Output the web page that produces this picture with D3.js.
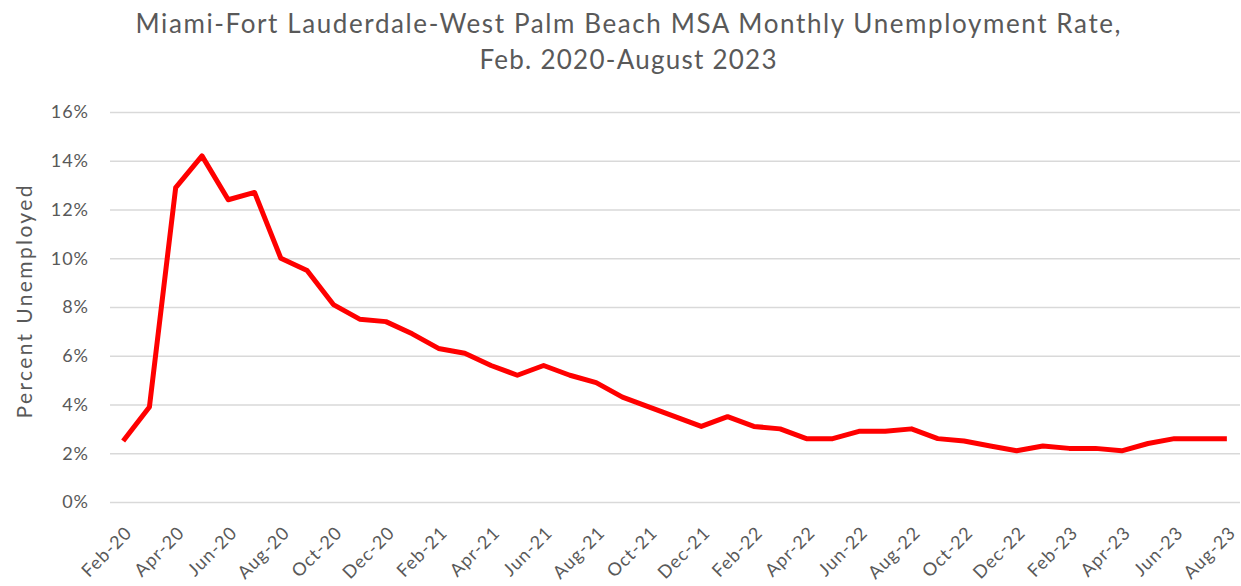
<!DOCTYPE html>
<html>
<head>
<meta charset="utf-8">
<script src="https://cdn.jsdelivr.net/npm/d3@7"></script>
<style>
	body { margin: 0; background: #fff; }
	text { font-family: Lato, "Open Sans", sans-serif; fill: #595959; }
</style>
</head>
<body>
<svg id="chart" width="1241" height="586"></svg>
<script>

var months = ['Feb-20','Mar-20','Apr-20','May-20','Jun-20','Jul-20','Aug-20','Sep-20','Oct-20','Nov-20','Dec-20',
	'Jan-21','Feb-21','Mar-21','Apr-21','May-21','Jun-21','Jul-21','Aug-21','Sep-21','Oct-21','Nov-21','Dec-21',
	'Jan-22','Feb-22','Mar-22','Apr-22','May-22','Jun-22','Jul-22','Aug-22','Sep-22','Oct-22','Nov-22','Dec-22',
	'Jan-23','Feb-23','Mar-23','Apr-23','May-23','Jun-23','Jul-23','Aug-23'];

var rates = [2.5, 3.9, 12.9, 14.2, 12.4, 12.7, 10.0, 9.5, 8.1, 7.5, 7.4,
	6.9, 6.3, 6.1, 5.6, 5.2, 5.6, 5.2, 4.9, 4.3, 3.9, 3.5, 3.1,
	3.5, 3.1, 3.0, 2.6, 2.6, 2.9, 2.9, 3.0, 2.6, 2.5, 2.3, 2.1,
	2.3, 2.2, 2.2, 2.1, 2.4, 2.6, 2.6, 2.6];

var yTicks = [0, 2, 4, 6, 8, 10, 12, 14, 16];

var titleLines = ['Miami-Fort Lauderdale-West Palm Beach MSA Monthly Unemployment Rate,', 'Feb. 2020-August 2023'];

var svg = d3.select('#chart');

var plotLeft = 110, plotRight = 1240;
var plotTop = 112, plotBottom = 502;

var x = d3.scaleBand()
	.domain(months)
	.range([plotLeft, plotRight]);

var y = d3.scaleLinear()
	.domain([0, 16])
	.range([plotBottom, plotTop]);

// title, stretched to the reference width
var titleWidths = [985, 297];
svg.append('g')
	.attr('class', 'title')
	.selectAll('text')
	.data(titleLines)
	.enter()
	.append('text')
	.attr('x', 628)
	.attr('y', function(d, i) { return 33 + i * 36; })
	.attr('text-anchor', 'middle')
	.attr('textLength', function(d, i) { return titleWidths[i]; })
	.attr('lengthAdjust', 'spacing')
	.style('font-size', '26px')
	.text(function(d) { return d; });

// gridlines + y labels
var yAxis = d3.axisLeft(y)
	.tickValues(yTicks)
	.tickSize(-(plotRight - plotLeft))
	.tickPadding(21)
	.tickFormat(function(d) { return d + '%'; });

svg.append('g')
	.attr('class', 'yAxis')
	.attr('transform', 'translate(' + plotLeft + ',0)')
	.call(yAxis)
	.call(function(g) {
		g.select('.domain').remove();
		g.selectAll('line').attr('stroke', '#d9d9d9').attr('stroke-width', 1.5);
		g.selectAll('text')
			.style('font-size', '18px')
			.style('letter-spacing', '1px')
			.attr('fill', '#595959');
	});

// x labels, every second month
var xAxis = d3.axisBottom(x)
	.tickValues(months.filter(function(d, i) { return i % 2 === 0; }))
	.tickSize(0)
	.tickPadding(0);

svg.append('g')
	.attr('class', 'xAxis')
	.attr('transform', 'translate(0,' + plotBottom + ')')
	.call(xAxis)
	.call(function(g) {
		g.select('.domain').remove();
		g.selectAll('text')
			.style('font-size', '18px')
			.style('letter-spacing', '1px')
			.attr('fill', '#595959')
			.attr('text-anchor', 'end')
			.attr('dy', '0')
			.attr('transform', 'translate(10,32) rotate(-45)');
	});

// axis title
svg.append('text')
	.attr('transform', 'translate(32,302) rotate(-90)')
	.attr('text-anchor', 'middle')
	.attr('textLength', 233)
	.attr('lengthAdjust', 'spacing')
	.style('font-size', '21px')
	.text('Percent Unemployed');

// the line
var line = d3.line()
	.x(function(d, i) { return x(months[i]) + x.bandwidth() / 2; })
	.y(function(d) { return y(d); });

svg.append('path')
	.datum(rates)
	.attr('d', line)
	.attr('fill', 'none')
	.attr('stroke', '#ff0000')
	.attr('stroke-width', 5)
	.attr('stroke-linejoin', 'round');

</script>
</body>
</html>
